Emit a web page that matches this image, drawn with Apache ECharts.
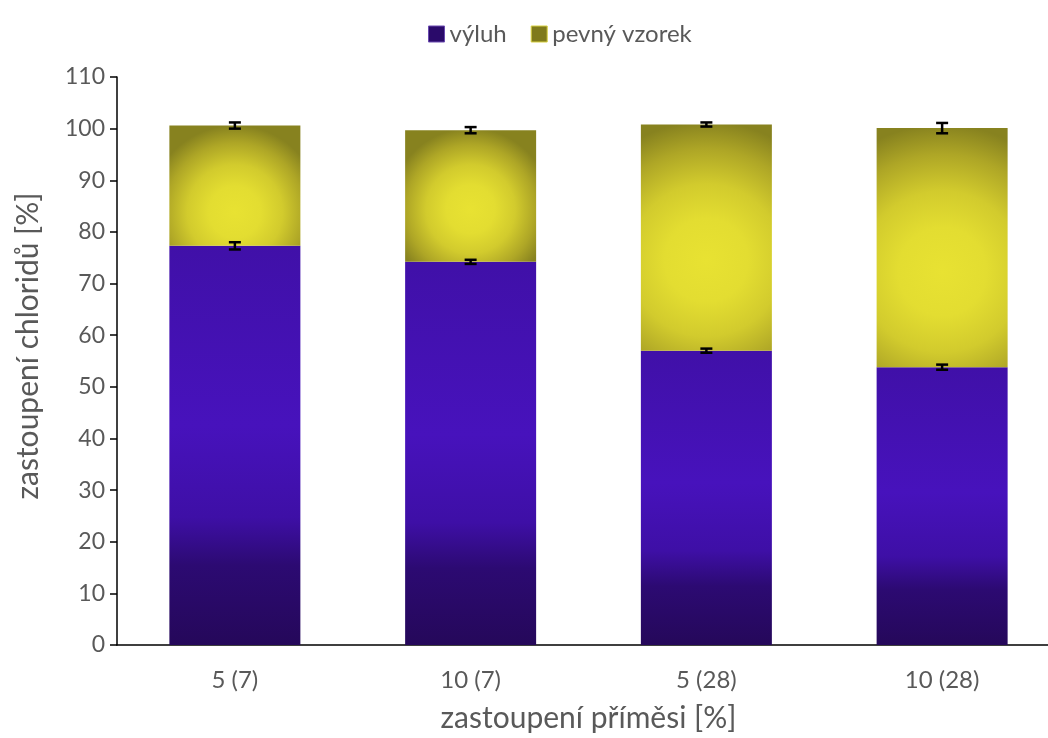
<!DOCTYPE html>
<html>
<head>
<meta charset="utf-8">
<script src="https://cdn.jsdelivr.net/npm/echarts@6/dist/echarts.min.js"></script>
<style>html,body{margin:0;padding:0;background:#fff;overflow:hidden;width:1048px;height:738px}#c{width:1060px;height:738px}</style>
</head>
<body>
<div id="c"></div>
<script>
const categories = ['5 (7)', '10 (7)', '5 (28)', '10 (28)'];
const vyluh = [77.3, 74.2, 57.0, 53.8];
const pevny = [23.3, 25.5, 43.8, 46.3];
const vyluhErr = [0.7, 0.4, 0.4, 0.5];
const totalErr = [0.6, 0.6, 0.4, 1.0];
const yTicks = { min: 0, max: 110, interval: 10 };

const FONT = 'Lato, "Open Sans", sans-serif';
const GRID = { left: 117, top: 77, width: 943, height: 570 };
const BAR_W = 131;

const errData = [];
categories.forEach((c, i) => {
  const t = vyluh[i] + pevny[i];
  errData.push([i, vyluh[i] - vyluhErr[i], vyluh[i] + vyluhErr[i]]);
  errData.push([i, t - totalErr[i], t + totalErr[i]]);
});

const purple = new echarts.graphic.LinearGradient(0, 0, 0, 1, [
  { offset: 0, color: '#4010a8' },
  { offset: 0.45, color: '#4712bc' },
  { offset: 0.68, color: '#3e0fa6' },
  { offset: 0.8, color: '#2c0a72' },
  { offset: 1, color: '#25085a' }
]);

// elliptical-looking radial fill per bar (radius scaled to the bar's pixel aspect)
const pevnyItems = pevny.map(v => {
  const h = v * GRID.height / (yTicks.max - yTicks.min);
  const short = h < BAR_W;
  const cy = short ? 0.72 : 0.6;
  const r = (cy * h) / Math.min(h, BAR_W) * (short ? 1.0 : 1.02);
  return {
    value: v,
    itemStyle: {
      color: new echarts.graphic.RadialGradient(0.5, cy, r, [
        { offset: 0, color: '#e8e232' },
        { offset: 0.3, color: '#e3dd31' },
        { offset: 0.55, color: '#d2cb2d' },
        { offset: 0.8, color: '#aea626' },
        { offset: 1, color: '#87821f' }
      ])
    }
  };
});

const chart = echarts.init(document.getElementById('c'));
chart.setOption({
  animation: false,
  backgroundColor: '#fff',
  legend: {
    top: 17, left: 423,
    itemWidth: 16, itemHeight: 16, itemGap: 24,
    textStyle: { fontFamily: FONT, fontSize: 24, color: '#595959' },
    data: [
      { name: 'výluh', icon: 'rect', itemStyle: { color: '#2a0a6a', borderColor: '#6a4ab0', borderWidth: 1 } },
      { name: 'pevný vzorek', icon: 'rect', itemStyle: { color: '#7f7a1c', borderColor: '#d8d040', borderWidth: 1 } }
    ]
  },
  grid: GRID,
  xAxis: {
    type: 'category', data: categories,
    axisLine: { lineStyle: { color: '#000', width: 1.5 } },
    axisTick: { show: false },
    axisLabel: { fontFamily: FONT, fontSize: 24, color: '#595959', margin: 23 },
    name: 'zastoupení příměsi [%]', nameLocation: 'middle', nameGap: 58,
    nameTextStyle: { fontFamily: FONT, fontSize: 30, color: '#595959' }
  },
  yAxis: {
    type: 'value', min: yTicks.min, max: yTicks.max, interval: yTicks.interval,
    axisLine: { show: true, lineStyle: { color: '#000', width: 1.5 } },
    axisTick: { show: true, length: 7, lineStyle: { color: '#000', width: 1.5 } },
    splitLine: { show: false },
    axisLabel: { fontFamily: FONT, fontSize: 23, color: '#595959', margin: 12 },
    name: 'zastoupení chloridů [%]', nameLocation: 'middle', nameGap: 74, nameRotate: 90,
    nameTextStyle: { fontFamily: FONT, fontSize: 30, color: '#595959', padding: [0, 0, 0, 30] }
  },
  series: [
    { name: 'výluh', type: 'bar', stack: 's', barWidth: BAR_W, data: vyluh, itemStyle: { color: purple } },
    { name: 'pevný vzorek', type: 'bar', stack: 's', barWidth: BAR_W, data: pevnyItems, itemStyle: { color: '#d8d030' } },
    {
      name: 'err', type: 'custom', data: errData, z: 10,
      renderItem: function (params, api) {
        const x = api.value(0);
        const lo = api.coord([x, api.value(1)]);
        const hi = api.coord([x, api.value(2)]);
        const hw = 6;
        const style = { stroke: '#000', lineWidth: 2.5 };
        return {
          type: 'group',
          children: [
            { type: 'line', shape: { x1: lo[0], y1: lo[1], x2: hi[0], y2: hi[1] }, style: style },
            { type: 'line', shape: { x1: lo[0] - hw, y1: lo[1], x2: lo[0] + hw, y2: lo[1] }, style: style },
            { type: 'line', shape: { x1: hi[0] - hw, y1: hi[1], x2: hi[0] + hw, y2: hi[1] }, style: style }
          ]
        };
      }
    }
  ]
});
</script>
</body>
</html>
